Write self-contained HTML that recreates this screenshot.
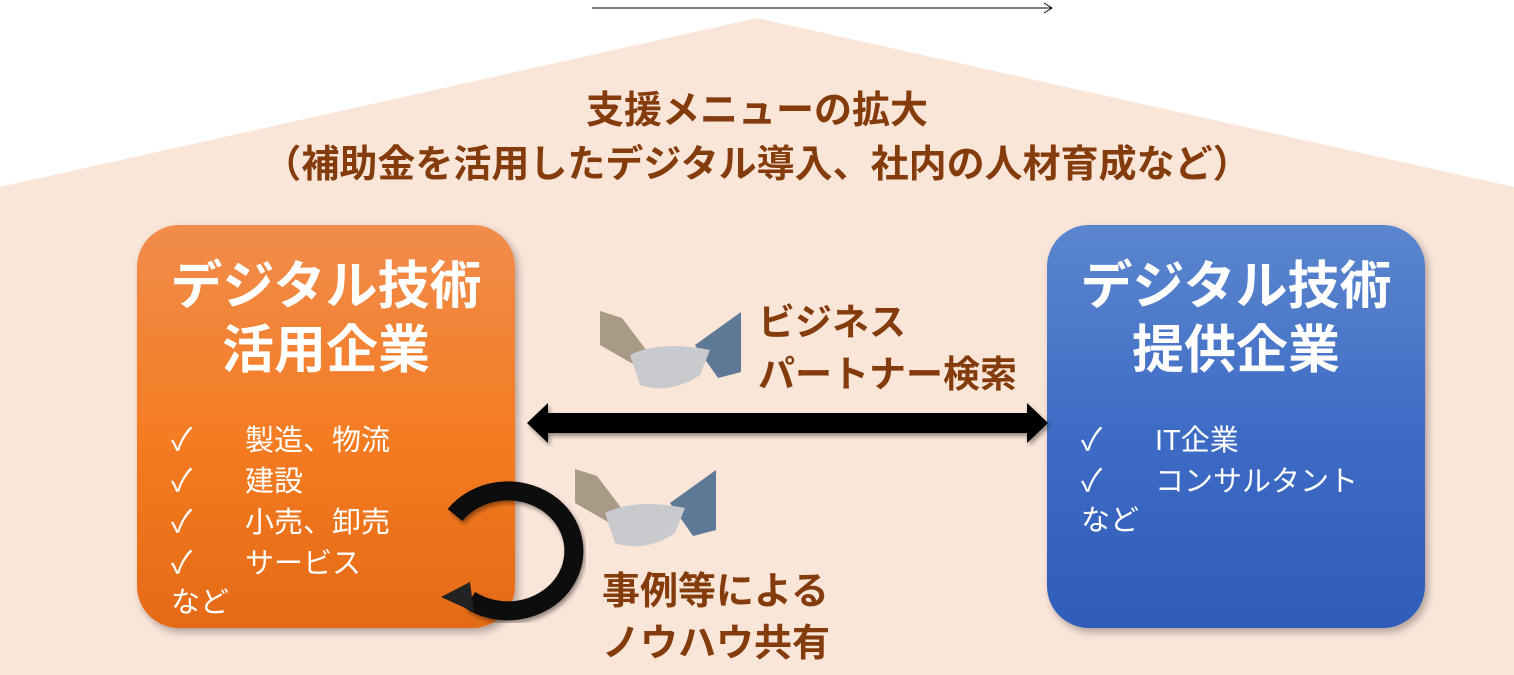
<!DOCTYPE html>
<html><head><meta charset="utf-8"><style>
body{margin:0;width:1514px;height:675px;overflow:hidden;background:#fff;font-family:"Liberation Sans","Noto Sans CJK JP",sans-serif;position:relative}
.t{position:absolute;font-weight:bold;color:#843C0C;white-space:nowrap}
.box{position:absolute;top:225px;width:378px;height:403px;border-radius:42px;box-shadow:3px 4px 8px rgba(0,0,0,.3);color:#fff}
.h{position:absolute;left:0;width:100%;text-align:center;font-weight:bold;font-size:52px;line-height:64px;top:30px}
.l{position:absolute;left:34px;font-size:29px;line-height:39px;top:195px}
.l span{display:inline-block;width:74px;font-size:31px}
</style></head><body>
<svg width="1514" height="675" style="position:absolute;left:0;top:0">
<polygon points="757,18 1514,187 1514,675 0,675 0,187" fill="#FAE5D9"/>
<line x1="592" y1="8" x2="1052" y2="8" stroke="#000" stroke-width="1"/>
<polyline points="1044,3 1052,8 1044,13" fill="none" stroke="#000"/>
</svg>
<div class="t" style="left:0;width:1514px;text-align:center;top:84px;font-size:38px;line-height:54px">支援メニューの拡大<br>（補助金を活用したデジタル導入、社内の人材育成など）</div>
<div class="box" style="left:137px;background:linear-gradient(#F18C4C,#F47B20 55%,#E46A16)">
<div class="h">デジタル技術<br>活用企業</div>
<div class="l"><span>✓</span>製造、物流<br><span>✓</span>建設<br><span>✓</span>小売、卸売<br><span>✓</span>サービス<br>など</div></div>
<div class="box" style="left:1047px;background:linear-gradient(#5B86CE,#3C6AC4 55%,#2F5DB8)">
<div class="h">デジタル技術<br>提供企業</div>
<div class="l"><span>✓</span>IT企業<br><span>✓</span>コンサルタント<br>など</div></div>
<svg width="1514" height="675" style="position:absolute;left:0;top:0">
<defs><filter id="s"><feDropShadow dx="2" dy="3" stdDeviation="2" flood-opacity=".4"/></filter></defs>
<polygon filter="url(#s)" points="527,423 548,403 548,413 1027,413 1027,403 1048,423 1027,443 1027,433 548,433 548,443" fill="#000"/>
<path filter="url(#s)" d="M455,515 A66,60 0 1 1 470,600" fill="none" stroke="#111" stroke-width="19"/>
<polygon points="441,597 470,582 474,612" fill="#222"/>
<g>
<polygon points="600,311 622,318 650,355 640,368 600,345" fill="#A89A84"/>
<polygon points="741,312 741,372 718,378 695,345" fill="#5E7995"/>
<path d="M630,355 Q660,340 710,350 L700,375 Q670,395 640,385 Z" fill="#C8CACD"/>
<polygon points="575,469 597,476 625,513 615,526 575,503" fill="#A89A84"/>
<polygon points="716,470 716,530 693,536 670,503" fill="#5E7995"/>
<path d="M605,513 Q635,498 685,508 L675,533 Q645,553 615,543 Z" fill="#C8CACD"/>
</g>
</svg>
<div class="t" style="left:758px;top:297px;font-size:37px;line-height:52px">ビジネス<br>パートナー検索</div>
<div class="t" style="left:602px;top:566px;font-size:38px;line-height:52px">事例等による<br>ノウハウ共有</div>
</body></html>
